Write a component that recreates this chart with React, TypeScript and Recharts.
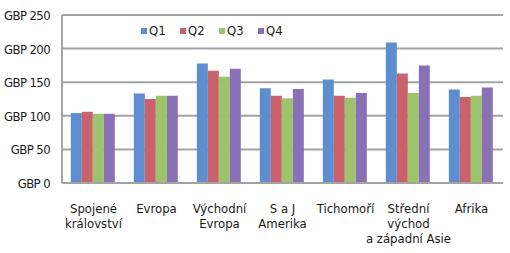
import { Bar, BarChart, CartesianGrid, Legend, XAxis, YAxis } from 'recharts';

const regions = [
  'Spojené\nkrálovství',
  'Evropa',
  'Východní\nEvropa',
  'S a J\nAmerika',
  'Tichomoří',
  'Střední\nvýchod\na západní Asie',
  'Afrika',
];

const q1 = [104, 133, 178, 141, 154, 209, 139];
const q2 = [106, 125, 167, 130, 130, 163, 128];
const q3 = [103, 130, 158, 126, 127, 134, 130];
const q4 = [103, 130, 170, 140, 134, 175, 142];

const yTicks = [0, 50, 100, 150, 200, 250];

const quarters = [
  { key: 'Q1', values: q1, color: '#5E8ED0' },
  { key: 'Q2', values: q2, color: '#C9626A' },
  { key: 'Q3', values: q3, color: '#9DC46A' },
  { key: 'Q4', values: q4, color: '#8A71B6' },
];

const data = regions.map((name, i) => {
  const row: Record<string, string | number> = { name };
  quarters.forEach((q) => {
    row[q.key] = q.values[i];
  });
  return row;
});

const FONT = '"DejaVu Sans Condensed", "DejaVu Sans", sans-serif';
const TEXT = '#1A1A1A';
const GRID = '#A3A3A3';

function RegionTick({ x, y, payload }: { x?: number; y?: number; payload?: { value: string } }) {
  const lines = String(payload?.value ?? '').split('\n');
  return (
    <text x={x} y={(y ?? 0) + 22} textAnchor="middle" fill={TEXT} fontFamily={FONT} fontSize={13}>
      {lines.map((line, i) => (
        <tspan key={i} x={x} dy={i === 0 ? 0 : 15}>
          {line}
        </tspan>
      ))}
    </text>
  );
}

function ValueTick({ x, y, payload }: { x?: number; y?: number; payload?: { value: number } }) {
  return (
    <text
      x={(x ?? 0) - 4}
      y={(y ?? 0) + 5}
      textAnchor="end"
      fill={TEXT}
      fontFamily={FONT}
      fontSize={13}
      letterSpacing={-0.6}
    >
      {`GBP ${payload?.value}`}
    </text>
  );
}

function QuarterLegend() {
  return (
    <div style={{ display: 'flex', fontFamily: FONT, fontSize: 13, color: TEXT, lineHeight: '17px' }}>
      {quarters.map((q) => (
        <div key={q.key} style={{ display: 'flex', alignItems: 'center', width: 39 }}>
          <span style={{ width: 6, height: 6, background: q.color, marginRight: 2 }} />
          <span>{q.key}</span>
        </div>
      ))}
    </div>
  );
}

export default function App() {
  return (
    <div style={{ position: 'fixed', left: 0, top: 0, background: '#fff' }}>
      <BarChart
        width={510}
        height={253}
        data={data}
        margin={{ top: 15, right: 7, left: 0, bottom: 0 }}
        barCategoryGap="14%"
        barGap={0}
      >
        <CartesianGrid vertical={false} stroke={GRID} strokeWidth={2} />
        <XAxis
          dataKey="name"
          interval={0}
          height={70}
          tick={<RegionTick />}
          tickLine={false}
          axisLine={{ stroke: GRID, strokeWidth: 2 }}
        />
        <YAxis
          domain={[0, 250]}
          ticks={yTicks}
          width={62}
          tick={<ValueTick />}
          tickLine={false}
          axisLine={{ stroke: GRID, strokeWidth: 2 }}
        />
        <Legend
          content={<QuarterLegend />}
          layout="horizontal"
          verticalAlign="middle"
          wrapperStyle={{ top: 22, left: 141, width: 'auto' }}
        />
        {quarters.map((q) => (
          <Bar key={q.key} dataKey={q.key} fill={q.color} isAnimationActive={false} />
        ))}
      </BarChart>
    </div>
  );
}
